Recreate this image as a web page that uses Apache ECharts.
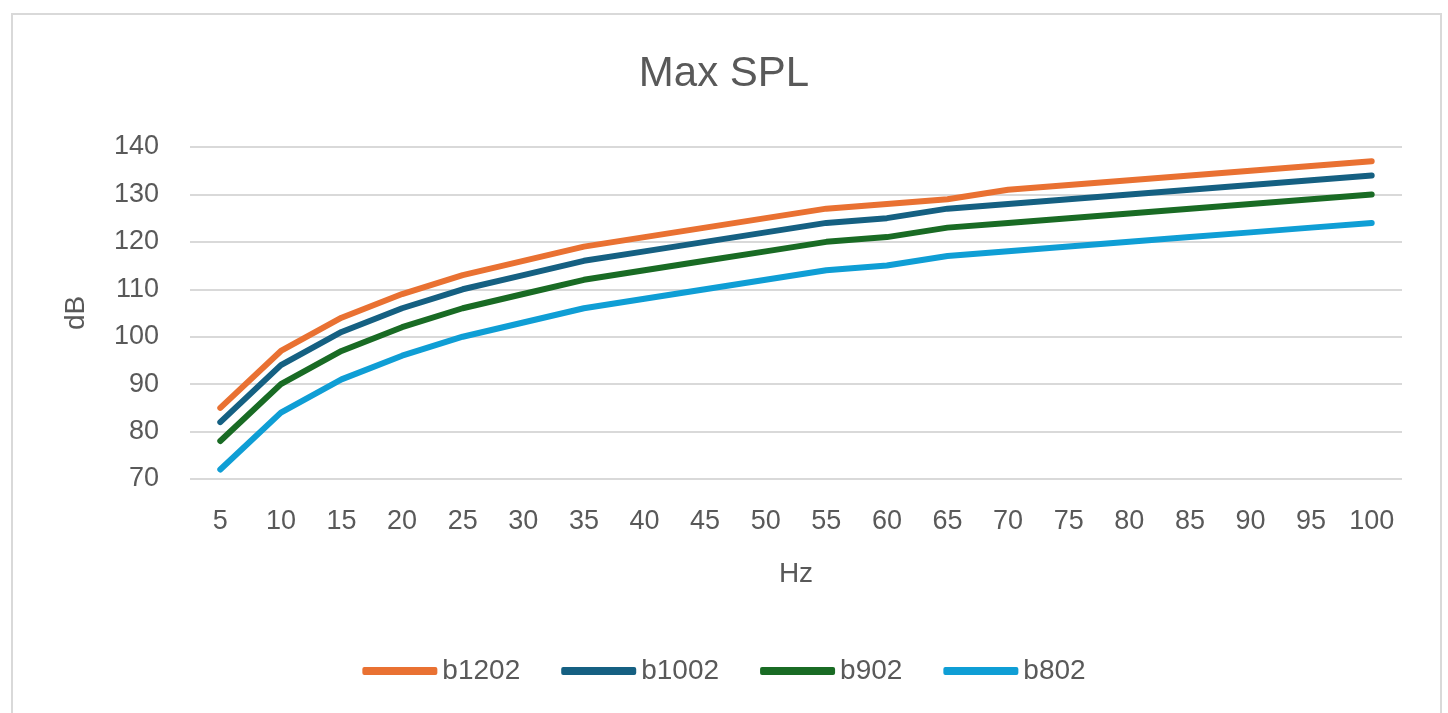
<!DOCTYPE html>
<html>
<head>
<meta charset="utf-8">
<script src="https://cdn.jsdelivr.net/npm/echarts@6/dist/echarts.min.js"></script>
<style>
html,body{margin:0;padding:0;background:#fff;}
#chart{width:1448px;height:713px;}
</style>
</head>
<body>
<div id="chart"></div>
<script>
const categories = ['5','10','15','20','25','30','35','40','45','50','55','60','65','70','75','80','85','90','95','100'];
const b1202 = [85,97,104,109,113,116,119,121,123,125,127,128,129,131,132,133,134,135,136,137];
const b1002 = [82,94,101,106,110,113,116,118,120,122,124,125,127,128,129,130,131,132,133,134];
const b902  = [78,90,97,102,106,109,112,114,116,118,120,121,123,124,125,126,127,128,129,130];
const b802  = [72,84,91,96,100,103,106,108,110,112,114,115,117,118,119,120,121,122,123,124];
const seriesNames = ['b1202','b1002','b902','b802'];
const seriesColors = ['#E97132','#156082','#196B24','#0F9ED5'];
const seriesData = [b1202,b1002,b902,b802];

const FONT = 'Liberation Sans, Arial, sans-serif';
const TXT = '#595959';

const chart = echarts.init(document.getElementById('chart'));
chart.setOption({
  animation:false,
  backgroundColor:'#fff',
  title:{
    text:'Max SPL', left:'center', top:48,
    textStyle:{fontFamily:FONT,fontSize:42,fontWeight:'normal',color:TXT}
  },
  graphic:[{
    type:'rect', shape:{x:12,y:14,width:1429,height:720},
    style:{fill:'none',stroke:'#d9d9d9',lineWidth:2}, silent:true
  }],
  legend:{
    top:652, left:'center', icon:'roundRect', itemWidth:75, itemHeight:8, itemGap:41,
    textStyle:{fontFamily:FONT,fontSize:28,color:TXT},
    data:seriesNames
  },
  grid:{left:190,right:46,top:147,bottom:234,containLabel:false},
  xAxis:{
    type:'category', data:categories, boundaryGap:true,
    name:'Hz', nameLocation:'middle', nameGap:81,
    nameTextStyle:{fontFamily:FONT,fontSize:28,color:TXT},
    axisLine:{show:false}, axisTick:{show:false},
    axisLabel:{fontFamily:FONT,fontSize:27,color:TXT,margin:29}
  },
  yAxis:{
    type:'value', min:70, max:140, interval:10,
    name:'dB', nameLocation:'middle', nameGap:100, nameRotate:90,
    nameTextStyle:{fontFamily:FONT,fontSize:28,color:TXT},
    axisLine:{show:false}, axisTick:{show:false},
    axisLabel:{fontFamily:FONT,fontSize:27,color:TXT,margin:31},
    splitLine:{lineStyle:{color:'#d9d9d9',width:2}}
  },
  series: seriesNames.map((n,i)=>({
    name:n, type:'line', data:seriesData[i], symbol:'none',
    color:seriesColors[i],
    lineStyle:{width:6,color:seriesColors[i],cap:'round',join:'round'}
  }))
});
</script>
</body>
</html>
